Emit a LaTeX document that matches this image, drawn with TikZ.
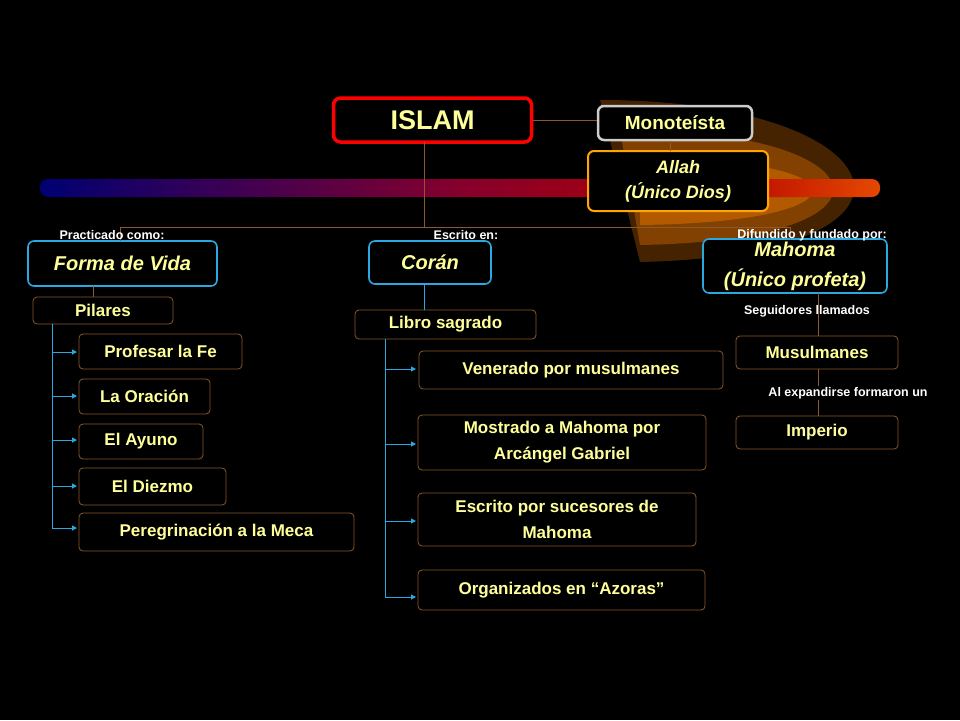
\documentclass[tikz,border=0pt]{standalone}
\usepackage{fontspec}
\setmainfont{Liberation Sans}
\usetikzlibrary{arrows.meta}
\definecolor{txt}{HTML}{FFFF99}
\definecolor{brn}{HTML}{8A5A2A}
\definecolor{blu}{HTML}{2AA8E0}
\pgfdeclarehorizontalshading{comet}{100bp}{color(0bp)=(black); color(5bp)=(black); color(25bp)=(blue!45!black); color(50bp)=(purple!70!black); color(65bp)=(red!70!black); color(80bp)=(orange!85!red); color(92bp)=(orange); color(100bp)=(yellow!80!orange)}
\tikzset{
 bx/.style={draw=brn,line width=0.8pt,rounded corners=4pt,fill=black,text=txt,font=\bfseries\fontsize{17}{19}\selectfont,align=center,inner sep=0pt},
 bb/.style={draw=blu,line width=1.6pt,rounded corners=6pt,fill=black,text=txt,font=\bfseries\itshape\fontsize{20}{22}\selectfont,align=center,inner sep=0pt},
 lbl/.style={text=white,font=\bfseries\fontsize{12.5}{14}\selectfont,inner sep=0pt},
 ln/.style={draw=brn,line width=0.8pt},
 ar/.style={draw=blu,line width=1pt,-{Triangle[length=5pt,width=5pt]}}
}
\begin{document}
\begin{tikzpicture}[x=1pt,y=-1pt]
\fill[black] (0,0) rectangle (960,720);
\useasboundingbox (0,0) rectangle (960,720);
% comet glow
\fill[orange!55!black,opacity=0.5] (600,100) .. controls (900,100) and (960,255) .. (640,262) -- cycle;
\fill[orange!75!black,opacity=0.5] (620,130) .. controls (880,128) and (920,240) .. (640,245) -- cycle;
\fill[orange!90!black,opacity=0.5] (640,160) .. controls (860,155) and (880,222) .. (640,225) -- cycle;
\shade[shading=comet,rounded corners=8pt] (40,179) rectangle (880,197);
% boxes
\node[bx,draw=red,line width=3.5pt,rounded corners=7pt,minimum width=198pt,minimum height=44pt,font=\bfseries\fontsize{27}{30}\selectfont] (islam) at (432.5,120) {ISLAM};
\node[bx,draw=gray!40,line width=2.5pt,rounded corners=6pt,minimum width=154pt,minimum height=34pt,font=\bfseries\fontsize{19}{22}\selectfont] (mono) at (675,123) {Monoteísta};
\node[bb,draw=orange!70!yellow,line width=2pt,minimum width=180pt,minimum height=60pt,font=\bfseries\itshape\fontsize{18}{25}\selectfont] (allah) at (678,181) {Allah\\(Único Dios)};
\node[bb,minimum width=189pt,minimum height=45pt] (forma) at (122.5,263.5) {Forma de Vida};
\node[bb,minimum width=122pt,minimum height=43pt] (coran) at (430,262.5) {Corán};
\node[bb,minimum width=184pt,minimum height=54pt,font=\bfseries\itshape\fontsize{20}{30}\selectfont] (mahoma) at (795,266) {Mahoma\\(Único profeta)};
\node[bx,minimum width=140pt,minimum height=27pt] (pilares) at (103,310.5) {Pilares};
\node[bx,minimum width=163pt,minimum height=35pt] (p1) at (160.5,351.5) {Profesar la Fe};
\node[bx,minimum width=131pt,minimum height=35pt] (p2) at (144.5,396.5) {La Oración};
\node[bx,minimum width=124pt,minimum height=35pt] (p3) at (141,441.5) {El Ayuno};
\node[bx,minimum width=147pt,minimum height=37pt] (p4) at (152.5,486.5) {El Diezmo};
\node[bx,minimum width=275pt,minimum height=38pt] (p5) at (216.5,532) {Peregrinación a la Meca};
\node[bx,minimum width=181pt,minimum height=29pt] (libro) at (445.5,324.5) {Libro sagrado};
\node[bx,minimum width=304pt,minimum height=38pt] (c1) at (571,370) {Venerado por musulmanes};
\node[bx,minimum width=288pt,minimum height=55pt,font=\bfseries\fontsize{17}{26}\selectfont] (c2) at (562,442.5) {Mostrado a Mahoma por\\Arcángel Gabriel};
\node[bx,minimum width=278pt,minimum height=53pt,font=\bfseries\fontsize{17}{26}\selectfont] (c3) at (557,519.5) {Escrito por sucesores de\\Mahoma};
\node[bx,minimum width=287pt,minimum height=40pt] (c4) at (561.5,590) {Organizados en “Azoras”};
\node[bx,minimum width=162pt,minimum height=33pt] (musul) at (817,352.5) {Musulmanes};
\node[bx,minimum width=162pt,minimum height=33pt] (imp) at (817,432.5) {Imperio};
% connectors
\coordinate (j) at (424,227);
\draw[ln] (islam.east) -- (islam.east-|mono.west);
\draw[ln] (670,141) -- (670,151);
\draw[ln] (424,142) -- (j);
\draw[ln] (120,227) -- (790,227);
\draw[ln] (120,227) -- (120,241);
\draw[ln] (790,227) -- (790,239);
\draw[ln] (93,286) -- (93,297);
\draw[blu,line width=1pt] (424,284) -- (424,310);
\draw[ln] (818,293) -- (musul.north-|818,0);
\draw[ln] (818,369) -- (imp.north-|818,0);
\draw[blu,line width=1pt] (52,324) -- (52,528);
\foreach \n/\y in {p1/352,p2/396,p3/440,p4/486,p5/528} \draw[ar] (52,\y) -- (77,\y);
\draw[blu,line width=1pt] (385,339) -- (385,597);
\foreach \n/\y in {c1/369,c2/444,c3/521,c4/597} \draw[ar] (385,\y) -- (416,\y);
% labels
\node[lbl] (l1) at (112,235) {Practicado como:};
\node[lbl] (l2) at (466,235) {Escrito en:};
\node[lbl] (l3) at (812,235) {Difundido y fundado por:};
\node[lbl] (l4) at (807,311) {Seguidores llamados};
\node[lbl,fill=black,inner sep=1pt] (l5) at (848,393) {Al expandirse formaron un};
\end{tikzpicture}
\end{document}
